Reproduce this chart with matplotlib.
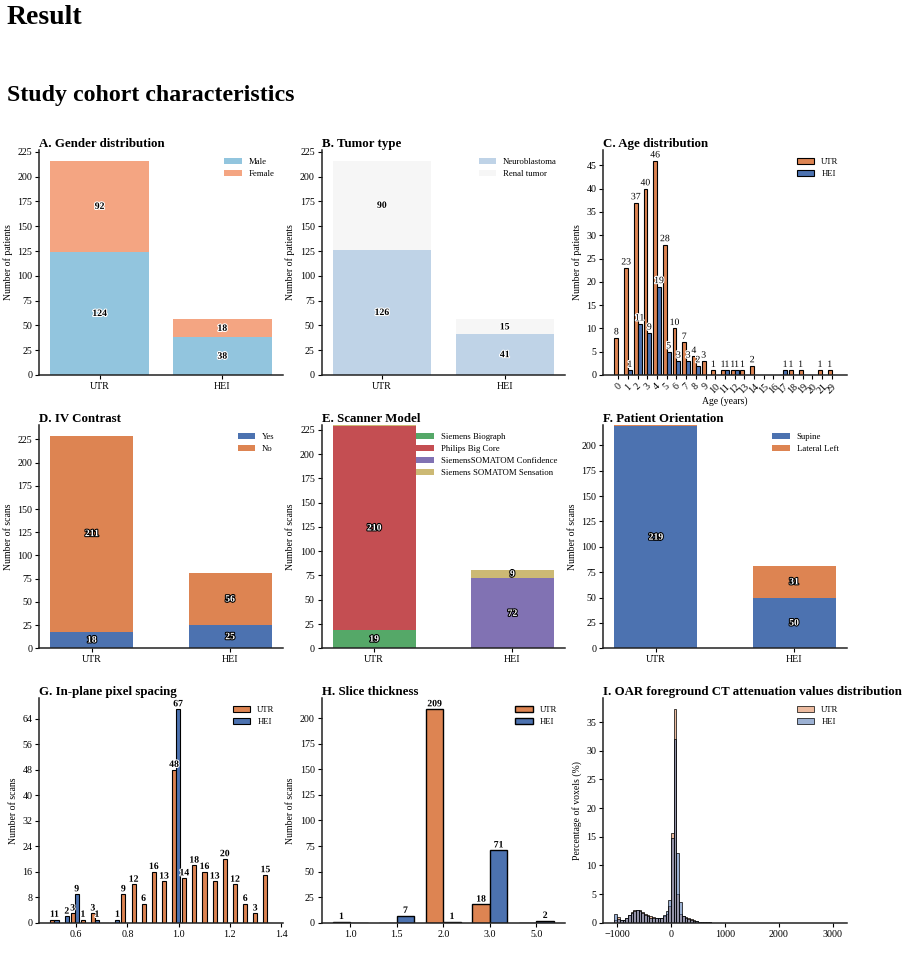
import matplotlib.pyplot as plt
import matplotlib.patheffects as pe
from matplotlib.colors import to_rgba
from matplotlib.ticker import MultipleLocator
import numpy as np

plt.rcParams['font.family'] = ['Liberation Serif', 'DejaVu Serif']

# Colours
UTR_C = '#dd8452'
HEI_C = '#4c72b0'

# Data
sites = ['UTR', 'HEI']

# A. Gender
male = [124, 38]
female = [92, 18]

# B. Tumor type
neuroblastoma = [126, 41]
renal_tumor = [90, 15]

# C. Age distribution
ages = ['0', '1', '2', '3', '4', '5', '6', '7', '8', '9', '10', '11', '12',
        '13', '14', '15', '16', '17', '18', '19', '20', '21', '29']
age_utr = [8, 23, 37, 40, 46, 28, 10, 7, 4, 3, 1, 1, 1, 1, 2, 0, 0, 0, 1, 1, 0, 1, 1]
age_hei = [0, 1, 11, 9, 19, 5, 3, 3, 2, 0, 0, 1, 1, 0, 0, 0, 0, 1, 0, 0, 0, 0, 0]

# D. IV contrast
contrast_yes = [18, 25]
contrast_no = [211, 56]

# E. Scanner model
biograph = [19, 0]
big_core = [210, 0]
confidence = [0, 72]
sensation = [1, 9]

# F. Patient orientation
supine = [219, 50]
lateral_left = [1, 31]

# G. In-plane pixel spacing (histogram bins, mm)
spacing_bins = [0.515, 0.555, 0.594, 0.634, 0.673, 0.713, 0.753, 0.792, 0.832,
                0.871, 0.911, 0.951, 0.990, 1.030, 1.069, 1.109, 1.149, 1.188,
                1.228, 1.268, 1.307, 1.347]
spacing_utr = [1, 0, 3, 1, 3, 0, 0, 9, 12, 6, 16, 13, 48, 14, 18, 16, 13, 20, 12, 6, 3, 15]
spacing_hei = [1, 2, 9, 0, 1, 0, 1, 0, 0, 0, 0, 0, 67, 0, 0, 0, 0, 0, 0, 0, 0, 0]

# H. Slice thickness
thickness = ['1.0', '1.5', '2.0', '3.0', '5.0']
thick_utr = [1, 0, 209, 18, 0]
thick_hei = [0, 7, 1, 71, 2]

# I. CT attenuation histogram (HU, percent of voxels)
hu_edges = np.arange(-1050, 3051, 50)
hu_utr = [0.4, 1.0, 0.5, 0.5, 0.9, 1.4, 1.9, 2.2, 2.3, 2.2, 1.9, 1.6, 1.3, 1.1,
          0.95, 0.9, 0.85, 0.9, 1.1, 1.5, 3.0, 15.6, 37.3, 5.0, 1.6, 1.1, 1.0,
          0.8, 0.6, 0.4, 0.25, 0.15, 0.1, 0.07, 0.05, 0.04, 0.03,
          0.03, 0.03, 0.02, 0.02, 0.02, 0.02, 0.02, 0.02, 0.01, 0.01, 0.01,
          0.01, 0.01, 0.01, 0.01, 0.01, 0.01, 0.01, 0.01, 0.01, 0.01, 0.01,
          0.01, 0.01, 0.01, 0.01, 0.01, 0.01, 0.01, 0.01, 0.01, 0.01, 0.01,
          0.01, 0.01, 0.01, 0.01, 0.01, 0.01, 0.01, 0.01, 0.01, 0.01, 0.01, 0.02]
hu_hei = [1.5, 0.6, 0.4, 0.5, 0.8, 1.3, 1.7, 2.1, 2.2, 2.0, 1.7, 1.4, 1.1, 0.9,
          0.8, 0.75, 0.75, 0.9, 1.3, 2.0, 3.9, 14.8, 32.0, 12.1, 3.6, 1.1, 0.9,
          0.7, 0.5, 0.35, 0.22, 0.14, 0.09, 0.06, 0.05, 0.04, 0.03,
          0.03, 0.02, 0.02, 0.02, 0.02, 0.02, 0.01, 0.01, 0.01, 0.01, 0.01,
          0.01, 0.01, 0.01, 0.01, 0.01, 0.01, 0.01, 0.01, 0.01, 0.01, 0.01,
          0.01, 0.01, 0.01, 0.01, 0.01, 0.01, 0.01, 0.01, 0.01, 0.01, 0.01,
          0.01, 0.01, 0.01, 0.01, 0.01, 0.01, 0.01, 0.01, 0.01, 0.01, 0.01, 0.01]

# Figure
fig = plt.figure(figsize=(9.11, 9.73), dpi=100)
fig.text(0.0077, 1 - 18 / 973, 'Result', fontsize=20, fontweight='bold', va='center')
fig.text(0.0077, 1 - 95 / 973, 'Study cohort characteristics', fontsize=17.2,
         fontweight='bold', va='center')

cols = [0.0432, 0.3531, 0.6623]
rows = [(0.6146, 0.2312), (0.3337, 0.2295), (0.0517, 0.2306)]
W = 0.267


def novo_eixo(r, c, titulo, ylabel):
    ax = fig.add_axes([cols[c], rows[r][0], W, rows[r][1]])
    ax.set_title(titulo, loc='left', fontsize=9.3, fontweight='bold', pad=2)
    ax.set_ylabel(ylabel, fontsize=7, labelpad=3)
    for s in ['top', 'right']:
        ax.spines[s].set_visible(False)
    for s in ['left', 'bottom']:
        ax.spines[s].set_linewidth(1.1)
        ax.spines[s].set_color('#222222')
    ax.tick_params(labelsize=7.2, length=3, width=0.8, pad=2)
    return ax


def legenda(ax, **kw):
    ax.legend(loc='upper right', fontsize=6.3, frameon=False, labelspacing=0.45, **kw)


halo_branco = [pe.withStroke(linewidth=1.5, foreground='white')]
halo_preto = [pe.withStroke(linewidth=1.5, foreground='black')]

# A
ax = novo_eixo(0, 0, 'A. Gender distribution', 'Number of patients')
b1 = ax.bar(sites, male, width=0.8, color='#92c5de', label='Male')
b2 = ax.bar(sites, female, width=0.8, bottom=male, color='#f4a582', label='Female')
for b in [b1, b2]:
    ax.bar_label(b, label_type='center', fontsize=7, fontweight='bold', path_effects=halo_branco)
ax.yaxis.set_major_locator(MultipleLocator(25))
legenda(ax)

# B
ax = novo_eixo(0, 1, 'B. Tumor type', 'Number of patients')
b1 = ax.bar(sites, neuroblastoma, width=0.8, color='#bfd3e7', label='Neuroblastoma')
b2 = ax.bar(sites, renal_tumor, width=0.8, bottom=neuroblastoma, color='#f6f6f6', label='Renal tumor')
for b in [b1, b2]:
    ax.bar_label(b, label_type='center', fontsize=7, fontweight='bold', path_effects=halo_branco)
ax.yaxis.set_major_locator(MultipleLocator(25))
legenda(ax)

# C
ax = novo_eixo(0, 2, 'C. Age distribution', 'Number of patients')
x = np.arange(len(ages))
b1 = ax.bar(x - 0.2, age_utr, width=0.4, color=UTR_C, edgecolor='black', linewidth=0.8, label='UTR')
b2 = ax.bar(x + 0.2, age_hei, width=0.4, color=HEI_C, edgecolor='black', linewidth=0.8, label='HEI')
for b, v in [(b1, age_utr), (b2, age_hei)]:
    ax.bar_label(b, labels=[str(n) if n > 0 else '' for n in v], fontsize=7, padding=1,
                 path_effects=halo_branco)
ax.set_xticks(x, ages, rotation=45)
ax.set_xlabel('Age (years)', fontsize=7, labelpad=1)
ax.yaxis.set_major_locator(MultipleLocator(5))
legenda(ax)

# D
ax = novo_eixo(1, 0, 'D. IV Contrast', 'Number of scans')
b1 = ax.bar(sites, contrast_yes, width=0.6, color=HEI_C, label='Yes')
b2 = ax.bar(sites, contrast_no, width=0.6, bottom=contrast_yes, color=UTR_C, label='No')
for b, v in [(b1, contrast_yes), (b2, contrast_no)]:
    ax.bar_label(b, labels=[str(n) if n >= 5 else '' for n in v], label_type='center',
                 fontsize=7, fontweight='bold', color='white', path_effects=halo_preto)
ax.yaxis.set_major_locator(MultipleLocator(25))
legenda(ax)

# E
ax = novo_eixo(1, 1, 'E. Scanner Model', 'Number of scans')
base = np.zeros(2)
for v, cor, nome in [(biograph, '#55a868', 'Siemens Biograph'),
                     (big_core, '#c44e52', 'Philips Big Core'),
                     (confidence, '#8172b3', 'SiemensSOMATOM Confidence'),
                     (sensation, '#ccb974', 'Siemens SOMATOM Sensation')]:
    b = ax.bar(sites, v, width=0.6, bottom=base, color=cor, label=nome)
    ax.bar_label(b, labels=[str(n) if n >= 5 else '' for n in v], label_type='center',
                 fontsize=7, fontweight='bold', color='white', path_effects=halo_preto)
    base = base + np.array(v)
ax.set_ylim(0, base.max())
ax.yaxis.set_major_locator(MultipleLocator(25))
legenda(ax)

# F
ax = novo_eixo(1, 2, 'F. Patient Orientation', 'Number of scans')
b1 = ax.bar(sites, supine, width=0.6, color=HEI_C, label='Supine')
b2 = ax.bar(sites, lateral_left, width=0.6, bottom=supine, color=UTR_C, label='Lateral Left')
for b, v in [(b1, supine), (b2, lateral_left)]:
    ax.bar_label(b, labels=[str(n) if n >= 5 else '' for n in v], label_type='center',
                 fontsize=7, fontweight='bold', color='white', path_effects=halo_preto)
ax.set_ylim(0, max(np.add(supine, lateral_left)))
ax.yaxis.set_major_locator(MultipleLocator(25))
legenda(ax)

# G
ax = novo_eixo(2, 0, 'G. In-plane pixel spacing', 'Number of scans')
bw = np.diff(spacing_bins).mean() * 0.8 / 2
xs = np.array(spacing_bins)
b1 = ax.bar(xs - bw / 2, spacing_utr, width=bw, color=UTR_C, edgecolor='black', linewidth=0.8, label='UTR')
b2 = ax.bar(xs + bw / 2, spacing_hei, width=bw, color=HEI_C, edgecolor='black', linewidth=0.8, label='HEI')
for b, v in [(b1, spacing_utr), (b2, spacing_hei)]:
    ax.bar_label(b, labels=[str(n) if n > 0 else '' for n in v], fontsize=7, fontweight='bold',
                 padding=0.5, path_effects=halo_branco)
ax.set_xticks([0.6, 0.8, 1.0, 1.2, 1.4], ['0.6', '0.8', '1.0', '1.2', '1.4'])
ax.yaxis.set_major_locator(MultipleLocator(8))
legenda(ax)

# H
ax = novo_eixo(2, 1, 'H. Slice thickness', 'Number of scans')
x = np.arange(len(thickness))
b1 = ax.bar(x - 0.1875, thick_utr, width=0.375, color=UTR_C, edgecolor='black', linewidth=1.0, label='UTR')
b2 = ax.bar(x + 0.1875, thick_hei, width=0.375, color=HEI_C, edgecolor='black', linewidth=1.0, label='HEI')
for b, v in [(b1, thick_utr), (b2, thick_hei)]:
    ax.bar_label(b, labels=[str(n) if n > 0 else '' for n in v], fontsize=7, fontweight='bold',
                 padding=0.5, path_effects=halo_branco)
ax.set_xticks(x, thickness)
ax.yaxis.set_major_locator(MultipleLocator(25))
legenda(ax)

# I
ax = novo_eixo(2, 2, 'I. OAR foreground CT attenuation values distribution', 'Percentage of voxels (%)')
centros = (hu_edges[:-1] + hu_edges[1:]) / 2
larg = np.diff(hu_edges)
ax.bar(centros, hu_utr, width=larg, color=to_rgba(UTR_C, 0.55), edgecolor='black',
       linewidth=0.5, label='UTR')
ax.bar(centros, hu_hei, width=larg, color=to_rgba(HEI_C, 0.55), edgecolor='black',
       linewidth=0.5, label='HEI')
ax.set_xticks([-1000, 0, 1000, 2000, 3000])
ax.yaxis.set_major_locator(MultipleLocator(5))
legenda(ax)

fig.savefig('out.png', dpi=100)
